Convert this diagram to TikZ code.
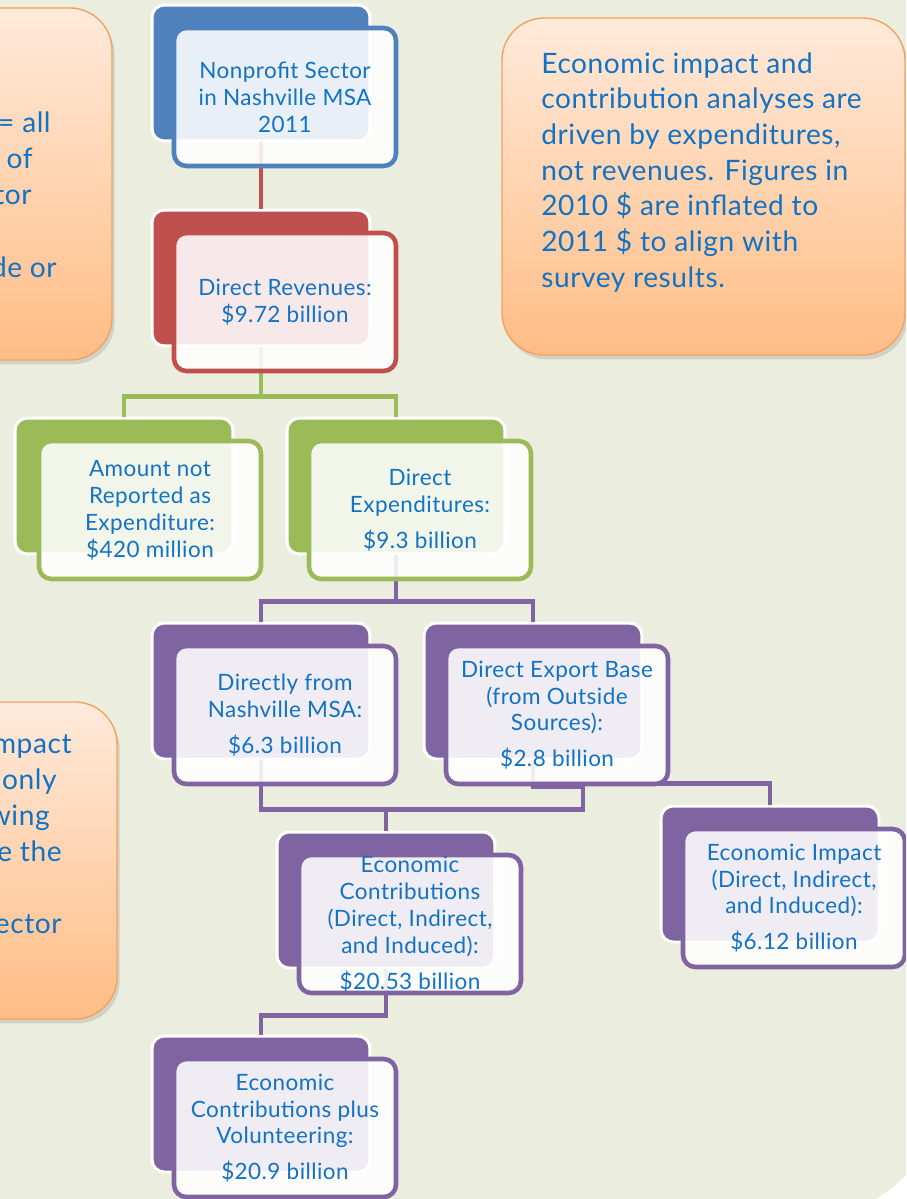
\documentclass[tikz,border=0pt]{standalone}
\usepackage{fontspec}
\setmainfont{Lato}[LetterSpace=2]
\usetikzlibrary{shadows}
\definecolor{pageBg}{HTML}{EBEEDF}
\definecolor{inkBlue}{HTML}{1272C4}
\definecolor{boxBlue}{HTML}{4F81BD}
\definecolor{boxRed}{HTML}{C0504D}
\definecolor{boxGreen}{HTML}{9BBB59}
\definecolor{boxPurple}{HTML}{8064A2}
\definecolor{noteTop}{HTML}{FFEADB}
\definecolor{noteBot}{HTML}{FFBD85}
\definecolor{noteEdge}{HTML}{F5A25E}
\tikzset{
  backbox/.style={draw=white,fill=#1,line width=1.7pt,rounded corners=7pt,
    minimum width=4.36cm,minimum height=2.72cm,inner sep=0pt},
  frontbox/.style={draw=#1,fill=white,fill opacity=0.88,text opacity=1,
    line width=2.6pt,rounded corners=7pt,minimum width=4.44cm,minimum height=2.76cm,
    inner sep=0pt,align=center,text=inkBlue,font=\fontsize{12.8}{15.3}\selectfont},
  linkline/.style={draw=#1,line width=2.6pt},
  notebox/.style={draw=noteEdge,line width=0.8pt,top color=noteTop,bottom color=noteBot,
    rounded corners=24pt,drop shadow={opacity=0.25,shadow xshift=1.5pt,shadow yshift=-2.5pt}},
  notetext/.style={text=inkBlue,inner sep=0pt,font=\fontsize{16}{20.3}\selectfont}
}

\begin{document}
\begin{tikzpicture}[x=0.02cm,y=-0.02cm]
  \useasboundingbox (0,0) rectangle (906,1199);
  \clip (0,0) rectangle (906,1199);
  \fill[white] (0,0) rectangle (906,1199);
  \fill[pageBg,rounded corners=72pt] (-200,-200) rectangle (940,1215);

  % side notes
  \draw[notebox] (-300,8) rectangle (112,360);
  \draw[notebox] (-300,702) rectangle (117,1019);
  \draw[notebox] (502,18) rectangle (905,355);
  \node[notetext,anchor=base east] (cutA1) at (51,133) {= all};
  \node[notetext,anchor=base east] (cutA2) at (33,169) {of};
  \node[notetext,anchor=base east] (cutA3) at (32,205) {tor};
  \node[notetext,anchor=base east] (cutA4) at (57,277) {de or};
  \node[notetext,anchor=base east] (cutB1) at (72,753) {mpact};
  \node[notetext,anchor=base east] (cutB2) at (57,789) {only};
  \node[notetext,anchor=base east] (cutB3) at (50,825) {wing};
  \node[notetext,anchor=base east] (cutB4) at (62,861) {e the};
  \node[notetext,anchor=base east] (cutB5) at (62,933) {ector};
  \node[notetext,anchor=north west,align=left] (noteR) at (541,52)
    {Economic impact and\\contribution analyses are\\driven by expenditures,\\
     not revenues. Figures in\\2010 \$ are inflated to\\2011 \$ to align with\\survey results.};

  % back plates
  \node[backbox=boxBlue] (npsB) at (261,73) {};
  \node[backbox=boxRed] (revB) at (261,278) {};
  \node[backbox=boxGreen] (notrepB) at (124,486) {};
  \node[backbox=boxGreen] (dexpB) at (396,486) {};
  \node[backbox=boxPurple] (localB) at (261,691) {};
  \node[backbox=boxPurple] (exportB) at (533,691) {};
  \node[backbox=boxPurple] (contribB) at (386,900) {};
  \node[backbox=boxPurple] (impactB) at (770,874) {};
  \node[backbox=boxPurple] (volunB) at (261,1104) {};

  % links
  \draw[linkline=boxRed] (npsB.south) -- (revB.north);
  \draw[linkline=boxGreen] (revB.south) -- ++(0,49) -| (notrepB.north);
  \draw[linkline=boxGreen] (revB.south) -- ++(0,49) -| (dexpB.north);
  \draw[linkline=boxPurple] (dexpB.south) -- ++(0,46) -| (localB.north);
  \draw[linkline=boxPurple] (dexpB.south) -- ++(0,46) -| (exportB.north);
  \draw[linkline=boxPurple] (localB.south) -- ++(0,49) -| (contribB.north);
  \draw[linkline=boxPurple] (exportB.south) -- ++(0,26) -- ++(50,0) -- ++(0,23) -| (contribB.north);
  \draw[linkline=boxPurple] (exportB.south) -- ++(0,23) -| (impactB.north);
  \draw[linkline=boxPurple] (contribB.south) -- ++(0,46) -| (volunB.north);

  % front cards
  \node[frontbox=boxBlue] (nps) at (285,97) {Nonprofit Sector\\in Nashville MSA\\2011};
  \node[frontbox=boxRed] (rev) at (285,302) {Direct Revenues:\\\$9.72 billion};
  \node[frontbox=boxGreen] (notrep) at (150,510) {Amount not\\Reported as\\Expenditure:\\\$420 million};
  \node[frontbox=boxGreen] (dexp) at (420,510) {Direct\\Expenditures:\\[5pt]\$9.3 billion};
  \node[frontbox=boxPurple] (local) at (285,715) {Directly from\\Nashville MSA:\\[5pt]\$6.3 billion};
  \node[frontbox=boxPurple] (export) at (557,715) {Direct Export Base\\(from Outside\\Sources):\\[5pt]\$2.8 billion};
  \node[frontbox=boxPurple] (contrib) at (410,924) {Economic\\Contributions\\(Direct, Indirect,\\and Induced):\\[5pt]\$20.53 billion};
  \node[frontbox=boxPurple] (impact) at (794,898) {Economic Impact\\(Direct, Indirect,\\and Induced):\\[5pt]\$6.12 billion};
  \node[frontbox=boxPurple] (volun) at (285,1128) {Economic\\Contributions plus\\Volunteering:\\[5pt]\$20.9 billion};
\end{tikzpicture}
\end{document}
